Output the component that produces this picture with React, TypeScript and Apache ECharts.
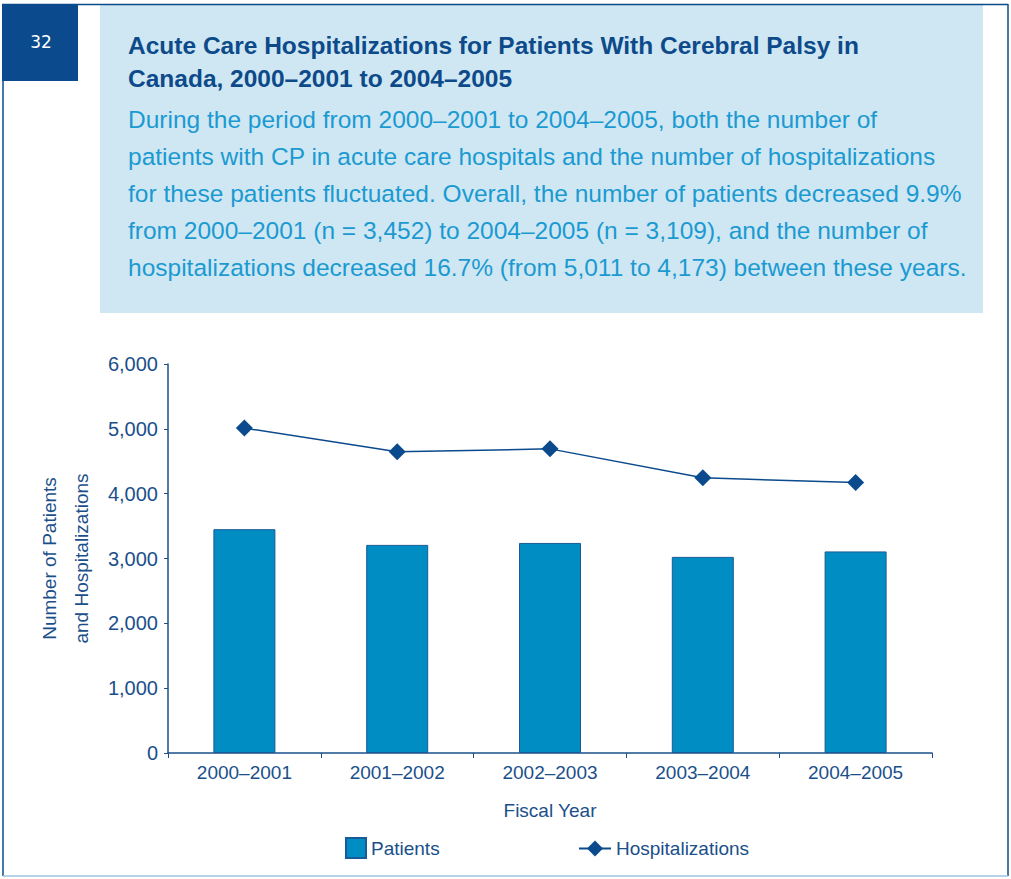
import React, { useEffect, useRef } from "react";
import * as echarts from "echarts";

const categories = ["2000–2001", "2001–2002", "2002–2003", "2003–2004", "2004–2005"];
const patients = [3452, 3210, 3240, 3025, 3109];
const hospitalizations = [5011, 4645, 4691, 4244, 4173];
const yTicks = { min: 0, max: 6000, interval: 1000 };

const pageNumber = "32";
const titleLines = [
  "Acute Care Hospitalizations for Patients With Cerebral Palsy in",
  "Canada, 2000–2001 to 2004–2005",
];
const bodyLines = [
  "During the period from 2000–2001 to 2004–2005, both the number of",
  "patients with CP in acute care hospitals and the number of hospitalizations",
  "for these patients fluctuated. Overall, the number of patients decreased 9.9%",
  "from 2000–2001 (n = 3,452) to 2004–2005 (n = 3,109), and the number of",
  "hospitalizations decreased 16.7% (from 5,011 to 4,173) between these years.",
];

const DARK = "#0b4a8c";
const AXIS = "#1a4f8a";
const LIGHT = "#1b9ad1";
const FONT = "'Liberation Sans', Arial, sans-serif";

export default function App() {
  const ref = useRef<HTMLDivElement>(null);
  useEffect(() => {
    if (!ref.current) return;
    const chart = echarts.init(ref.current, undefined, { renderer: "svg" });
    const graphics: any[] = [
      { type: "rect", shape: { x: 100, y: 4, width: 883, height: 309 }, style: { fill: "#cfe7f3" }, z: 0 },
      { type: "line", shape: { x1: 2, y1: 4.5, x2: 1008, y2: 4.5 }, style: { stroke: DARK, lineWidth: 1.5 } },
      { type: "line", shape: { x1: 3, y1: 4, x2: 3, y2: 876 }, style: { stroke: DARK, lineWidth: 1.5 } },
      { type: "line", shape: { x1: 1008, y1: 4, x2: 1008, y2: 876 }, style: { stroke: DARK, lineWidth: 1.5 } },
      { type: "line", shape: { x1: 3, y1: 876, x2: 1008, y2: 876 }, style: { stroke: "#9cc3de", lineWidth: 1.5 } },
      { type: "rect", shape: { x: 2, y: 4, width: 76, height: 77 }, style: { fill: DARK }, z: 2 },
      {
        type: "text", x: 41, y: 42, z: 3,
        style: { text: pageNumber, fill: "#ffffff", font: "17px 'DejaVu Sans', sans-serif", align: "center", verticalAlign: "middle" },
      },
    ];
    titleLines.forEach((t, i) => {
      graphics.push({
        type: "text", x: 128, y: 45 + i * 33, z: 3,
        style: { text: t, fill: "#0d4a8a", font: `bold 24.5px ${FONT}`, verticalAlign: "middle" },
      });
    });
    bodyLines.forEach((t, i) => {
      graphics.push({
        type: "text", x: 128, y: 119 + i * 37, z: 3,
        style: { text: t, fill: LIGHT, font: `24.5px ${FONT}`, verticalAlign: "middle" },
      });
    });

    chart.setOption({
      animation: false,
      textStyle: { fontFamily: FONT },
      graphic: graphics,
      grid: { left: 168, right: 79, top: 364, bottom: 126, containLabel: false },
      legend: [
        {
          data: [{ name: "Patients", icon: "rect" }],
          left: 340, top: 832, itemWidth: 20, itemHeight: 20, itemGap: 6,
          textStyle: { color: AXIS, fontSize: 19, fontFamily: FONT },
        },
        {
          data: ["Hospitalizations"],
          left: 573, top: 834, itemWidth: 32, itemHeight: 20,
          textStyle: { color: AXIS, fontSize: 19, fontFamily: FONT },
        },
      ],
      xAxis: {
        type: "category",
        data: categories,
        name: "Fiscal Year",
        nameLocation: "middle",
        nameGap: 48,
        nameTextStyle: { color: AXIS, fontSize: 19 },
        axisLine: { lineStyle: { color: AXIS, width: 1.5 } },
        axisTick: { show: true, length: 5, lineStyle: { color: AXIS } },
        axisLabel: { color: AXIS, fontSize: 19, margin: 10 },
      },
      yAxis: {
        type: "value",
        min: yTicks.min, max: yTicks.max, interval: yTicks.interval,
        name: "Number of Patients\nand Hospitalizations",
        nameLocation: "middle",
        nameGap: 69,
        nameTextStyle: { color: AXIS, fontSize: 19, lineHeight: 32 },
        axisLine: { show: true, lineStyle: { color: AXIS, width: 1.5 } },
        axisTick: { show: true, length: 4, lineStyle: { color: AXIS } },
        splitLine: { show: false },
        axisLabel: {
          color: AXIS, fontSize: 20, margin: 10,
          formatter: (v: number) => v.toLocaleString("en-US"),
        },
      },
      series: [
        {
          name: "Patients",
          type: "bar",
          data: patients,
          barWidth: 62,
          itemStyle: { color: "#008dc4", borderColor: "#1a5a96", borderWidth: 1 },
        },
        {
          name: "Hospitalizations",
          type: "line",
          data: hospitalizations,
          symbol: "diamond",
          symbolSize: 17,
          itemStyle: { color: DARK },
          lineStyle: { color: DARK, width: 1.5 },
        },
      ],
    });
    return () => chart.dispose();
  }, []);
  return (
    <div
      ref={ref}
      style={{ position: "fixed", left: 0, top: 0, width: 1011, height: 879, background: "#ffffff" }}
    />
  );
}
